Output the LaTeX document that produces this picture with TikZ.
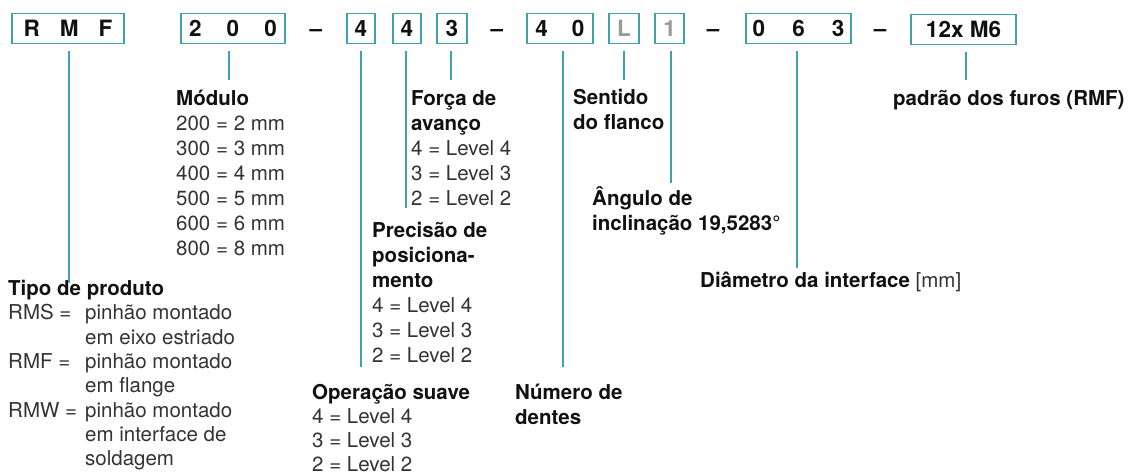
\documentclass[tikz,border=0pt]{standalone}
\usepackage{fontspec}
\setmainfont{TeX Gyre Heros}
\usetikzlibrary{calc}
\definecolor{ink}{HTML}{111111}
\definecolor{body}{HTML}{333333}
\definecolor{frame}{HTML}{3FA1AB}
\definecolor{faded}{HTML}{9A9A9A}
\newcommand\lblfont{\fontsize{20.5}{25}\selectfont}
\newcommand\boxfont{\fontsize{22.5}{27}\selectfont\bfseries}
\newcommand\hd[1]{\textbf{\color{ink}#1}}
\newcommand\rows[1]{\begin{tabular}[t]{@{}l@{}}#1\end{tabular}}
\newcommand\sep{\hspace{25pt}}
\newcommand\ind{\hspace*{77pt}}

\begin{document}
\begin{tikzpicture}[x=1pt,y=-1pt,
  codebox/.style={draw=frame,line width=1.8pt,minimum height=30pt,inner sep=0pt,font=\boxfont,text=ink},
  lead/.style={draw=frame,line width=1.8pt,shorten <=6.5pt},
  lbl/.style={anchor=base west,inner sep=0pt,font=\lblfont,text=body}]
\useasboundingbox (0,0) rectangle (1136,476);

% order code
\node[codebox,minimum width=112pt] (rmf) at (68,28.5) {R\hspace{20pt}M\hspace{20pt}F};
\node[codebox,minimum width=104pt] (mod) at (233,28.5) {2\sep 0\sep 0};
\node[codebox,minimum width=28pt] (opr) at (361,28.5) {4};
\node[codebox,minimum width=28pt] (pos) at (407,28.5) {4};
\node[codebox,minimum width=30pt] (frc) at (452,28.5) {3};
\node[codebox,minimum width=66pt] (tth) at (560,28.5) {4\hspace{24pt}0};
\node[codebox,minimum width=30pt,text=faded] (dir) at (624,28.5) {L};
\node[codebox,minimum width=29pt,text=faded] (ang) at (669.5,28.5) {1};
\node[codebox,minimum width=105pt] (dia) at (798.5,28.5) {0\hspace{27pt}6\hspace{27pt}3};
\node[codebox,minimum width=105pt] (hol) at (963.5,29.5) {12x M6};
\foreach \d/\x in {1/316,2/497,3/713,4/880}
  \node[font=\boxfont,text=ink,inner sep=0pt,anchor=base] (dash\d) at (\x,36.5) {--};

% legend texts
\node[lbl,font=\fontsize{20.5}{24.3}\selectfont] (rmf-txt) at (8,295.5) {\rows{\hd{Tipo de produto}\\
  \makebox[77pt][l]{RMS =}pinhão montado\\ \ind em eixo estriado\\
  \makebox[77pt][l]{RMF =}pinhão montado\\ \ind em flange\\
  \makebox[77pt][l]{RMW =}pinhão montado\\ \ind em interface de\\ \ind soldagem}};
\node[lbl] (mod-txt) at (176,105.5) {\rows{\hd{Módulo}\\200 = 2 mm\\300 = 3 mm\\400 = 4 mm\\500 = 5 mm\\600 = 6 mm\\800 = 8 mm}};
\node[lbl] (frc-txt) at (411,105.5) {\rows{\hd{Força de}\\\hd{avanço}\\4 = Level 4\\3 = Level 3\\2 = Level 2}};
\node[lbl] (pos-txt) at (372,237.5) {\rows{\hd{Precisão de}\\\hd{posiciona-}\\\hd{mento}\\4 = Level 4\\3 = Level 3\\2 = Level 2}};
\node[lbl,font=\fontsize{20.5}{24}\selectfont] (opr-txt) at (312,399.5) {\rows{\hd{Operação suave}\\4 = Level 4\\3 = Level 3\\2 = Level 2}};
\node[lbl] (tth-txt) at (515,399.5) {\rows{\hd{Número de}\\\hd{dentes}}};
\node[lbl] (dir-txt) at (573,104.5) {\rows{\hd{Sentido}\\\hd{do flanco}}};
\node[lbl] (ang-txt) at (592,205.5) {\rows{\hd{Ângulo de}\\\hd{inclinação 19,5283°}}};
\node[lbl] (dia-txt) at (700,287.5) {\hd{Diâmetro da interface} [mm]};
\node[lbl] (hol-txt) at (893,105.5) {\hd{padrão dos furos (RMF)}};

% leader lines
\foreach \b/\x/\y in {rmf/69/283,mod/229/80,opr/361/367,pos/406/208,frc/451/80,
                      tth/563/367,dir/624/80,ang/671/183,dia/797/268,hol/966/80}
{
  \coordinate (\b-end) at (\x,\y);
  \draw[lead] (\b.south -| \b-end) -- (\b-end);
}
\end{tikzpicture}
\end{document}
